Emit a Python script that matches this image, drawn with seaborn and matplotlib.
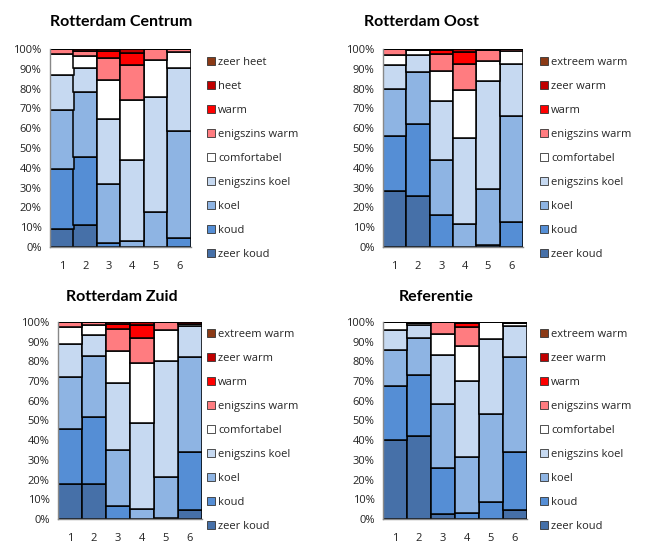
import pandas as pd
import seaborn as sns
import matplotlib.pyplot as plt
from matplotlib.patches import Patch
from matplotlib.ticker import FuncFormatter

# Intervals on the x axis
intervals = [1, 2, 3, 4, 5, 6]

# Category labels, bottom of the stack to top
labels_centrum = ['zeer koud', 'koud', 'koel', 'enigszins koel', 'comfortabel',
                  'enigszins warm', 'warm', 'heet', 'zeer heet']
labels_other = ['zeer koud', 'koud', 'koel', 'enigszins koel', 'comfortabel',
                'enigszins warm', 'warm', 'zeer warm', 'extreem warm']

colors = ['#4670A8', '#558ED5', '#8EB4E3', '#C6D9F1', '#FFFFFF',
          '#FF7C80', '#FF0000', '#C00000', '#8B3A16']

# Percentages per category (bottom to top), one value per interval
centrum = [
    [9, 11, 0, 0, 0, 0],
    [30.5, 34.5, 2, 0, 0, 4.6],
    [29.5, 33, 30, 3, 17.5, 54.2],
    [18, 12, 32.5, 41, 58.5, 31.4],
    [10.5, 6, 20, 30, 18.5, 8.4],
    [2.5, 2.3, 11.2, 18, 5.5, 1.4],
    [0, 0, 3.5, 6, 0, 0],
    [0, 1.2, 0.8, 2, 0, 0],
    [0, 0, 0, 0, 0, 0],
]
oost = [
    [28.3, 25.8, 0, 0, 0, 0],
    [27.6, 36.3, 16.2, 0, 1, 12.8],
    [23.9, 26.3, 27.7, 11.6, 28.1, 53.4],
    [12.1, 8.6, 29.8, 43.3, 54.6, 26.3],
    [5.1, 2.3, 15.2, 24.2, 10.1, 6.3],
    [3, 0, 8.6, 13.3, 5.5, 1.2],
    [0, 0, 1.8, 5.9, 0, 0],
    [0, 0.7, 0.7, 1.7, 0.7, 0],
    [0, 0, 0, 0, 0, 0],
]
zuid = [
    [17.6, 17.6, 0, 0, 0.6, 4.4],
    [28.3, 34.4, 6.4, 0, 0, 29.4],
    [26.4, 30.9, 28.4, 4.9, 20.5, 48.6],
    [16.7, 10.7, 34, 43.6, 59.1, 15.6],
    [8.5, 5, 16.7, 30.9, 15.9, 1.2],
    [2.5, 1.4, 11.1, 12.5, 3.9, 0],
    [0, 0, 2.6, 6.7, 0, 0],
    [0, 0, 0.8, 1.4, 0, 0.8],
    [0, 0, 0, 0, 0, 0],
]
referentie = [
    [40.2, 41.9, 2.4, 0, 0, 4.4],
    [27.5, 31.4, 23.3, 2.9, 8.4, 29.4],
    [18.3, 18.8, 32.9, 28.4, 45.1, 48.6],
    [10.1, 6.5, 24.8, 39, 38.1, 15.6],
    [3.9, 0.9, 10.7, 17.5, 8.4, 1.3],
    [0, 0, 5.9, 9.8, 0, 0],
    [0, 0, 0, 1.9, 0, 0],
    [0, 0.5, 0, 0.5, 0, 0.7],
    [0, 0, 0, 0, 0, 0],
]

panels = [
    ('Rotterdam Centrum', centrum, labels_centrum),
    ('Rotterdam Oost', oost, labels_other),
    ('Rotterdam Zuid', zuid, labels_other),
    ('Referentie', referentie, labels_other),
]

sns.set_theme(style='white')
plt.rcParams['font.family'] = ['Open Sans', 'DejaVu Sans']

W, H = 652, 560
fig = plt.figure(figsize=(W / 100, H / 100), dpi=100)

# axes boxes in pixels: left, top, right, bottom
boxes = [(50, 49, 191, 247), (383, 49, 523, 247),
         (58, 322, 202, 519), (383, 322, 527, 519)]
title_pos = [(121, 22), (421, 22), (122, 297), (436, 297)]
legend_pos = [(207, 57), (540, 57), (207, 329), (540, 329)]


def px_rect(l, t, r, b):
    return [l / W, 1 - b / H, (r - l) / W, (b - t) / H]


for (title, values, labels), box, tp, lp in zip(panels, boxes, title_pos, legend_pos):
    ax = fig.add_axes(px_rect(*box))
    rows = []
    for lab, vals in zip(labels, values):
        for x, v in zip(intervals, vals):
            rows.append({'interval': x, 'categorie': lab, 'pct': v})
    df = pd.DataFrame(rows)
    palette = dict(zip(labels, colors))
    # last hue level ends up at the bottom of the stack
    sns.histplot(data=df, x='interval', weights='pct', hue='categorie',
                 hue_order=labels[::-1], multiple='stack', discrete=True,
                 shrink=1, palette=palette, alpha=1, edgecolor='black',
                 linewidth=1.1, legend=False, ax=ax)
    ax.set_xlim(0.5, 6.5)
    ax.set_ylim(0, 100)
    ax.set_yticks(range(0, 101, 10))
    ax.yaxis.set_major_formatter(FuncFormatter(lambda v, p: f'{v:.0f}%'))
    ax.set_xticks(intervals)
    ax.set_xlabel('')
    ax.set_ylabel('')
    ax.tick_params(axis='both', length=0, labelsize=8, colors='#222222')
    ax.tick_params(axis='x', pad=10)
    ax.tick_params(axis='y', pad=6)
    for s in ['top', 'right']:
        ax.spines[s].set_visible(False)
    for s in ['left', 'bottom']:
        ax.spines[s].set_color('#888888')
        ax.spines[s].set_linewidth(1)

    fig.text(tp[0] / W, 1 - tp[1] / H, title, ha='center', va='center',
             fontsize=11.5, fontweight='bold', color='black',
             family=['Lato', 'DejaVu Sans'])

    handles = [Patch(facecolor=c, edgecolor='#333333', linewidth=0.6, label=l)
               for l, c in zip(labels[::-1], colors[::-1])]
    fig.legend(handles=handles, loc='upper left',
               bbox_to_anchor=(lp[0] / W, 1 - lp[1] / H), frameon=False,
               fontsize=8, handlelength=0.7, handleheight=0.7,
               handletextpad=0.3, labelspacing=1.17, borderaxespad=0,
               borderpad=0)

fig.savefig('out.png', dpi=100)
